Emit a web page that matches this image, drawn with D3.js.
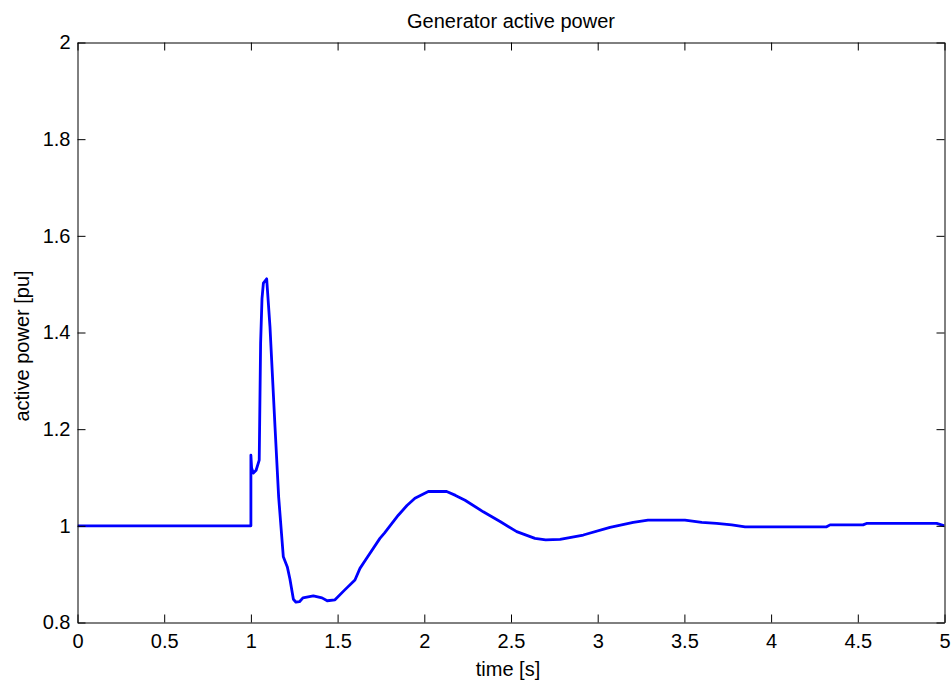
<!DOCTYPE html>
<html>
<head>
<meta charset="utf-8">
<script src="https://cdn.jsdelivr.net/npm/d3@7"></script>
<style>
  html, body { margin: 0; padding: 0; background: #fff; }
  svg { display: block; }
  text { font-family: "Liberation Sans", Arial, sans-serif; fill: #000; }
</style>
</head>
<body>
<svg id="chart" width="952" height="680"></svg>
<script>
const titleText = "Generator active power";
const xLabelText = "time [s]";
const yLabelText = "active power [pu]";

const timeValues = [0, 1.0, 1.0, 1.004, 1.014, 1.03, 1.048, 1.056, 1.064, 1.072, 1.091, 1.11, 1.139, 1.16, 1.187,
  1.21, 1.225, 1.245, 1.26, 1.28, 1.30, 1.36, 1.41, 1.44, 1.485, 1.54, 1.60, 1.629, 1.66, 1.744, 1.77, 1.85, 1.90, 1.946,
  2.023, 2.129, 2.18, 2.235, 2.34, 2.437, 2.533, 2.638, 2.70, 2.783, 2.917, 3.071, 3.205, 3.29, 3.503, 3.60, 3.686,
  3.773, 3.85, 4.32, 4.34, 4.53, 4.55, 4.955, 5.0];
const powerValues = [1.0, 1.0, 1.146, 1.12, 1.109, 1.115, 1.136, 1.378, 1.47, 1.502, 1.511, 1.412, 1.205, 1.06, 0.936,
  0.915, 0.89, 0.848, 0.842, 0.843, 0.851, 0.855, 0.851, 0.845, 0.847, 0.867, 0.888, 0.912, 0.929, 0.974, 0.985, 1.022, 1.042, 1.057,
  1.071, 1.071, 1.063, 1.053, 1.029, 1.009, 0.988, 0.974, 0.971, 0.972, 0.981, 0.997, 1.007, 1.012, 1.012, 1.007, 1.005,
  1.002, 0.998, 0.998, 1.002, 1.002, 1.005, 1.005, 1.0];

const xTicks = [0, 0.5, 1, 1.5, 2, 2.5, 3, 3.5, 4, 4.5, 5];
const xTickLabels = ["0", "0.5", "1", "1.5", "2", "2.5", "3", "3.5", "4", "4.5", "5"];
const yTicks = [0.8, 1.0, 1.2, 1.4, 1.6, 1.8, 2.0];
const yTickLabels = ["0.8", "1", "1.2", "1.4", "1.6", "1.8", "2"];

(function () {
const svg = d3.select("#chart");
const mLeft = 77.5, mRight = 944.5, mTop = 42.5, mBottom = 622.5;
const fontSize = 20;
const tickLen = 8;

const x = d3.scaleLinear().domain([0, 5]).range([mLeft, mRight]);
const y = d3.scaleLinear().domain([0.8, 2.0]).range([mBottom, mTop]);

const data = timeValues.map((t, i) => ({ t, p: powerValues[i] }));

svg.append("defs").append("clipPath").attr("id", "clip")
  .append("rect").attr("x", mLeft).attr("y", mTop).attr("width", mRight - mLeft).attr("height", mBottom - mTop);

svg.append("path")
  .datum(data)
  .attr("clip-path", "url(#clip)")
  .attr("fill", "none")
  .attr("stroke", "#0000ff")
  .attr("stroke-width", 2.8)
  .attr("stroke-linejoin", "round")
  .attr("d", d3.line().x(d => x(d.t)).y(d => y(d.p)));

const fmtX = (d, i) => xTickLabels[i];
const fmtY = (d, i) => yTickLabels[i];

const axBottom = d3.axisBottom(x).tickValues(xTicks).tickFormat(fmtX).tickSizeInner(-tickLen).tickSizeOuter(0).tickPadding(11);
const axTop = d3.axisTop(x).tickValues(xTicks).tickFormat("").tickSizeInner(-tickLen).tickSizeOuter(0);
const axLeft = d3.axisLeft(y).tickValues(yTicks).tickFormat(fmtY).tickSizeInner(-tickLen).tickSizeOuter(0).tickPadding(7);
const axRight = d3.axisRight(y).tickValues(yTicks).tickFormat("").tickSizeInner(-tickLen).tickSizeOuter(0);

function styleAxis(g) {
  g.attr("font-family", null).attr("font-size", null);
  g.selectAll(".domain").attr("stroke", "#000").attr("stroke-width", 1);
  g.selectAll(".tick line").attr("stroke", "#000").attr("stroke-width", 1);
  g.selectAll(".tick text").attr("font-size", fontSize).attr("fill", "#000");
}

svg.append("g").attr("transform", `translate(0,${mBottom})`).call(axBottom).call(styleAxis);
svg.append("g").attr("transform", `translate(0,${mTop})`).call(axTop).call(styleAxis);
svg.append("g").attr("transform", `translate(${mLeft},0)`).call(axLeft).call(styleAxis);
svg.append("g").attr("transform", `translate(${mRight},0)`).call(axRight).call(styleAxis);

svg.append("text")
  .attr("x", (mLeft + mRight) / 2).attr("y", 28)
  .attr("text-anchor", "middle").attr("font-size", fontSize)
  .text(titleText);

svg.append("text")
  .attr("x", 508).attr("y", 676)
  .attr("text-anchor", "middle").attr("font-size", fontSize)
  .text(xLabelText);

svg.append("text")
  .attr("transform", "translate(28.5,346) rotate(-90)")
  .attr("text-anchor", "middle").attr("font-size", fontSize)
  .text(yLabelText);
})();
</script>
</body>
</html>
